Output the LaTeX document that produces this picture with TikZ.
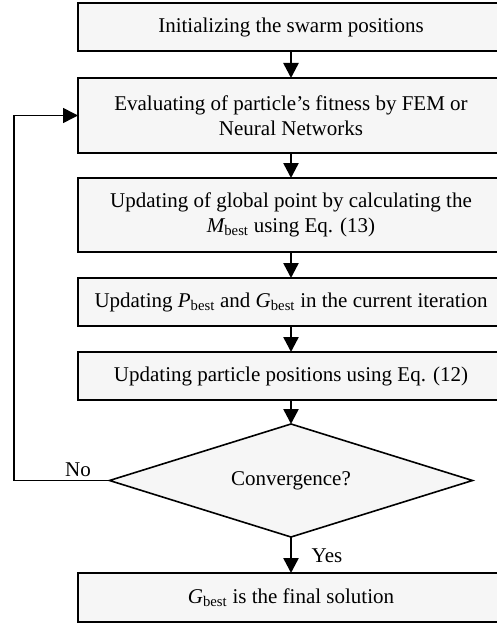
\documentclass[tikz,border=0pt]{standalone}
\usepackage{fontspec}
\setmainfont{Liberation Serif}
\usetikzlibrary{shapes.geometric,arrows.meta}
\definecolor{boxfill}{HTML}{F6F6F6}
\begin{document}
\begin{tikzpicture}[x=1pt,y=-1pt,
  stepbox/.style={draw,line width=1.6pt,fill=boxfill,rectangle,minimum width=426pt,inner sep=0pt,outer sep=0pt,align=center,font=\fontsize{21}{25}\selectfont},
  decide/.style={draw,line width=1.6pt,fill=boxfill,diamond,aspect=3.2,minimum width=363pt,minimum height=113pt,inner sep=0pt,outer sep=0pt,font=\fontsize{21}{25}\selectfont},
  flow/.style={line width=2.5pt,-{Triangle[width=15pt,length=15pt]}},
  loopline/.style={line width=1.6pt},
  lbl/.style={font=\fontsize{21}{25}\selectfont,inner sep=0pt}]
\useasboundingbox (0,0) rectangle (496,623);
\node[stepbox,minimum height=48pt] (b1) at (291,27) {Initializing the swarm positions};
\node[stepbox,minimum height=75pt] (b2) at (291,115.5) {Evaluating of particle’s fitness by FEM or\\Neural Networks};
\node[stepbox,minimum height=74pt] (b3) at (291,215) {Updating of global point by calculating the\\{\itshape M}\textsubscript{best} using Eq. (13)};
\node[stepbox,minimum height=48pt] (b4) at (291,302) {Updating {\itshape P}\textsubscript{best} and {\itshape G}\textsubscript{best} in the current iteration};
\node[stepbox,minimum height=48pt] (b5) at (291,376) {Updating particle positions using Eq. (12)};
\node[decide] (d) at (291,480.5) {Convergence?};
\node[stepbox,minimum height=49pt] (b6) at (291,597.5) {{\itshape G}\textsubscript{best} is the final solution};
\coordinate (lc1) at (14,480.5);
\coordinate (lc2) at (14,115.5);
\draw[flow] (b1) -- (b2);
\draw[flow] (b2) -- (b3);
\draw[flow] (b3) -- (b4);
\draw[flow] (b4) -- (b5);
\draw[flow] (b5) -- (d);
\draw[flow] (d) -- (b6);
\draw[loopline] (d.west) -- (lc1) -- (lc2);
\draw[loopline,-{Triangle[width=15pt,length=15pt]}] (lc2) -- (b2.west);
\node[lbl] (no) at (78,470) {No};
\node[lbl] (yes) at (327,556) {Yes};
\end{tikzpicture}
\end{document}
